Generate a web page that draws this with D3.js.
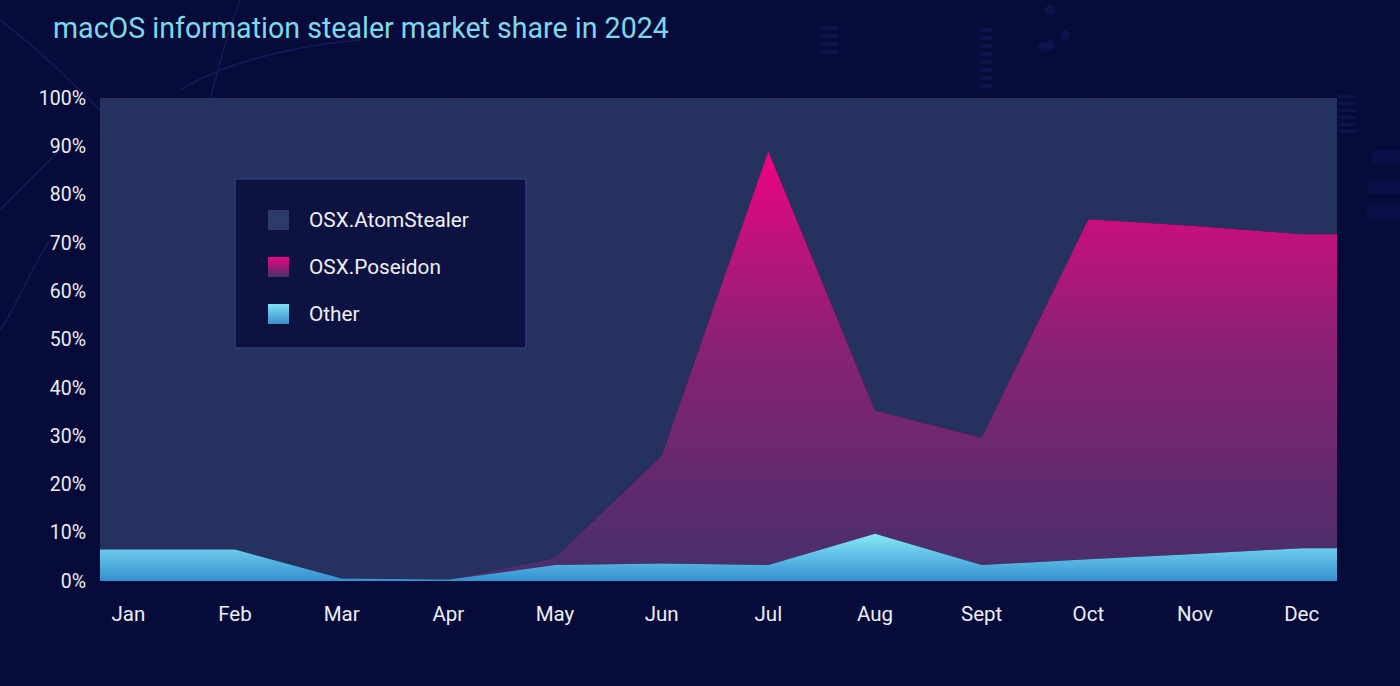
<!DOCTYPE html>
<html>
<head>
<meta charset="utf-8">
<script src="https://cdn.jsdelivr.net/npm/d3@7"></script>
<style>
  html, body { margin: 0; padding: 0; background: #070b3a; }
  svg { display: block; }
  text { font-family: Roboto, "Noto Sans", sans-serif; }
</style>
</head>
<body>
<svg id="chart" width="1400" height="686"></svg>
<script>
// ---- data ----
const months = ["Jan","Feb","Mar","Apr","May","Jun","Jul","Aug","Sept","Oct","Nov","Dec"];
const seriesNames = ["OSX.AtomStealer","OSX.Poseidon","Other"];
const otherShare    = [6.5, 6.5, 0.5, 0.3, 3.3, 3.6, 3.3, 9.8, 3.3, 4.5, 5.6, 6.8];
const poseidonShare = [0, 0, 0, 0, 1.5, 22.4, 85.7, 25.5, 26.4, 70.4, 67.9, 65.0];
const atomShare     = months.map((m, i) => 100 - otherShare[i] - poseidonShare[i]);
const yTicks = [0,10,20,30,40,50,60,70,80,90,100];
const title = "macOS information stealer market share in 2024";

// ---- layout ----
const W = 1400, H = 686;
const plotLeft = 100, plotRight = 1337, plotTop = 98, plotBottom = 581;

const svg = d3.select("#chart");
const defs = svg.append("defs");

// background
svg.append("rect").attr("width", W).attr("height", H).attr("fill", "#070b3a");

// faint decorative background (circuit-like)
const deco = svg.append("g").attr("fill", "none").attr("stroke", "#0e1650").attr("stroke-width", 1.2);
d3.range(0, 14).forEach(k => {
  deco.append("line").attr("x1", 4 + k * 107).attr("x2", 4 + k * 107).attr("y1", 0).attr("y2", H).attr("opacity", 0.5);
});
[58, 130].forEach(yy => deco.append("line").attr("x1", 0).attr("x2", W).attr("y1", yy).attr("y2", yy).attr("opacity", 0.5));
const curves = svg.append("g").attr("fill", "none").attr("stroke", "#121c58").attr("stroke-width", 1.6);
curves.append("path").attr("d", "M0,20 C40,50 80,90 120,130 C150,160 190,200 230,260");
curves.append("path").attr("d", "M240,0 C225,40 215,80 205,120");
curves.append("path").attr("d", "M0,210 C20,190 40,170 60,150");
curves.append("path").attr("d", "M180,90 C230,60 300,45 360,40");
curves.append("path").attr("d", "M0,330 C20,300 30,270 50,240");
const decoDots = svg.append("g").attr("fill", "#0d144c");
[[1050,10],[1065,35],[1050,45],[1043,47]].forEach(p => decoDots.append("circle").attr("cx", p[0]).attr("cy", p[1]).attr("r", 5));
d3.range(0, 4).forEach(k => decoDots.append("rect").attr("x", 820).attr("y", 26 + k * 8).attr("width", 18).attr("height", 4));
d3.range(0, 8).forEach(k => decoDots.append("rect").attr("x", 980).attr("y", 28 + k * 8).attr("width", 12).attr("height", 4));
d3.range(0, 6).forEach(k => decoDots.append("rect").attr("x", 1338).attr("y", 95 + k * 7).attr("width", 18).attr("height", 3));
[[1372,150],[1368,180],[1366,205]].forEach(p => decoDots.append("rect").attr("x", p[0]).attr("y", p[1]).attr("width", 34).attr("height", 14).attr("opacity", 0.6));

// title
svg.append("text")
  .attr("x", 53).attr("y", 38)
  .attr("fill", "#7fd8ea")
  .attr("font-size", 28.6)
  .text(title);

// scales
const x = d3.scaleBand().domain(months).range([75, 1355]).padding(0);
const y = d3.scaleLinear().domain([0, 100]).range([plotBottom, plotTop]);

// stack
const table = months.map((m, i) => ({
  month: m,
  "Other": otherShare[i],
  "OSX.Poseidon": poseidonShare[i],
  "OSX.AtomStealer": atomShare[i]
}));
const stackKeys = ["Other", "OSX.Poseidon", "OSX.AtomStealer"];
const stacked = d3.stack().keys(stackKeys)(table);

// gradients
const gPos = defs.append("linearGradient").attr("id", "gradPos")
  .attr("gradientUnits", "userSpaceOnUse")
  .attr("x1", 0).attr("x2", 0).attr("y1", y(d3.max(poseidonShare.map((v, i) => v + otherShare[i])))).attr("y2", y(0));
gPos.append("stop").attr("offset", "0%").attr("stop-color", "#ec0580");
gPos.append("stop").attr("offset", "45%").attr("stop-color", "#8a2174");
gPos.append("stop").attr("offset", "100%").attr("stop-color", "#45306a");

const gOth = defs.append("linearGradient").attr("id", "gradOther")
  .attr("gradientUnits", "userSpaceOnUse")
  .attr("x1", 0).attr("x2", 0).attr("y1", y(d3.max(otherShare))).attr("y2", y(0));
gOth.append("stop").attr("offset", "0%").attr("stop-color", "#86e8f7");
gOth.append("stop").attr("offset", "100%").attr("stop-color", "#3590d0");

const gPosL = defs.append("linearGradient").attr("id", "gradPosL").attr("x1", 0).attr("x2", 0).attr("y1", 0).attr("y2", 1);
gPosL.append("stop").attr("offset", "0%").attr("stop-color", "#e8067f");
gPosL.append("stop").attr("offset", "100%").attr("stop-color", "#4a3068");
const gOthL = defs.append("linearGradient").attr("id", "gradOthL").attr("x1", 0).attr("x2", 0).attr("y1", 0).attr("y2", 1);
gOthL.append("stop").attr("offset", "0%").attr("stop-color", "#7fe0f5");
gOthL.append("stop").attr("offset", "100%").attr("stop-color", "#3a8fce");

const fills = {
  "OSX.AtomStealer": "#253260",
  "OSX.Poseidon": "url(#gradPos)",
  "Other": "url(#gradOther)"
};
const legendFills = {
  "OSX.AtomStealer": "#2d3b6c",
  "OSX.Poseidon": "url(#gradPosL)",
  "Other": "url(#gradOthL)"
};

// points: band centres, extended flat to plot edges
const pts = months.map((m, i) => ({ px: x(m) + x.bandwidth() / 2, i }));
const ext = [{ px: plotLeft, i: 0 }, ...pts, { px: plotRight, i: months.length - 1 }];

const plot = svg.append("g");
stacked.slice().reverse().forEach(layer => {
  const area = d3.area()
    .x(d => d.px)
    .y0(d => y(layer[d.i][0]))
    .y1(d => y(layer[d.i][1]));
  plot.append("path")
    .datum(ext)
    .attr("d", area)
    .attr("fill", fills[layer.key]);
});

// y axis labels
const yAxis = d3.axisLeft(y).tickValues(yTicks).tickFormat(d => d + "%").tickSize(0).tickPadding(14);
const yg = svg.append("g").attr("transform", `translate(${plotLeft},0)`).call(yAxis);
yg.select(".domain").remove();
yg.selectAll("text").attr("fill", "#eceef4").attr("font-size", 19.5).attr("font-family", "Roboto, sans-serif");

// x axis labels
const xAxis = d3.axisBottom(x).tickSize(0).tickPadding(25);
const xg = svg.append("g").attr("transform", `translate(0,${plotBottom})`).call(xAxis);
xg.select(".domain").remove();
xg.selectAll("text").attr("fill", "#eceef4").attr("font-size", 20.5).attr("font-family", "Roboto, sans-serif");

// legend
const lg = svg.append("g").attr("transform", "translate(235,179)");
lg.append("rect").attr("width", 291).attr("height", 169)
  .attr("fill", "#0e1240").attr("stroke", "#33418a").attr("stroke-width", 1.2);
seriesNames.forEach((name, k) => {
  const row = lg.append("g").attr("transform", `translate(33,${31 + k * 47})`);
  row.append("rect").attr("width", 21).attr("height", 20).attr("fill", legendFills[name]);
  row.append("text").attr("x", 41).attr("y", 10).attr("dy", "0.35em")
    .attr("fill", "#eef0f6").attr("font-size", 20.8).text(name);
});
</script>
</body>
</html>
